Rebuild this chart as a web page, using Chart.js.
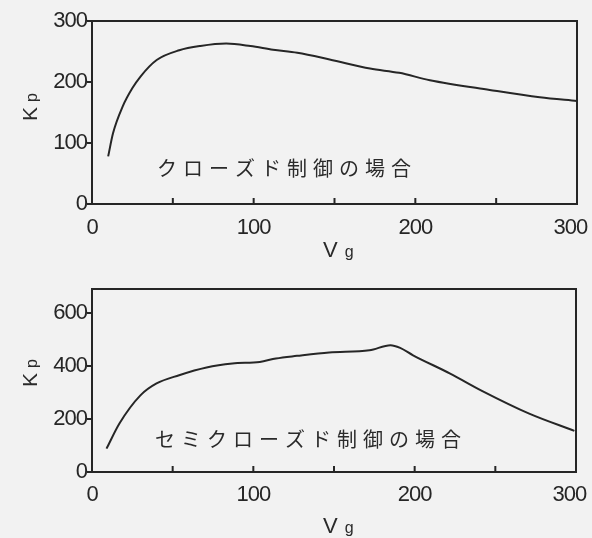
<!DOCTYPE html>
<html>
<head>
<meta charset="utf-8">
<script src="https://cdn.jsdelivr.net/npm/chart.js@4"></script>
<style>
  html, body { margin: 0; padding: 0; background: #f2f2f2; }
  #wrap { position: relative; width: 592px; height: 538px; background: #f2f2f2; }
  .pane { position: absolute; left: 0; width: 592px; height: 269px; }
  #top { top: 0; }
  #bottom { top: 269px; }
</style>
</head>
<body>
<div id="wrap">
  <div class="pane" id="top"><canvas id="c1" width="592" height="269"></canvas></div>
  <div class="pane" id="bottom"><canvas id="c2" width="592" height="269"></canvas></div>
</div>
<script>
// Gain Kp versus Vg, closed control
const closedVg = [10, 13, 19, 25, 30, 40, 54, 67, 83, 98, 112, 127, 147, 172, 190, 209, 246, 277, 300];
const closedKp = [78, 116, 160, 190, 209, 236, 252, 259, 263, 259, 253, 248, 237, 222, 215, 203, 187, 175, 169];

// Gain Kp versus Vg, semi-closed control
const semiVg = [9, 17, 30, 40, 54, 71, 87, 104, 114, 127, 147, 172, 185, 191, 199, 222, 242, 271, 299];
const semiKp = [88, 183, 289, 334, 365, 394, 409, 415, 428, 438, 451, 459, 478, 468, 440, 371, 305, 220, 155];

const xTicksMajor = [0, 100, 200, 300];
const xTicksMinor = [50, 100, 150, 200, 250];
const closedYTicks = [0, 100, 200, 300];
const semiYTicks = [0, 200, 400, 600];

const captions = ['クローズド制御の場合', 'セミクローズド制御の場合'];

const INK = '#262626';
const TICK_FONT = { family: '"Liberation Sans", Arial, sans-serif', size: 22 };

// the last x label sits a little inside the right edge of the page
const xLabel = v => (v === 300 ? '300\u2002\u2009' : String(v));

// tight tracking for the numerals
const tracking = {
  id: 'tracking',
  beforeDraw(chart) { chart.ctx.letterSpacing = '-1px'; }
};

// Frame, inward x ticks, caption and axis names
const decor = {
  id: 'decor',
  afterDatasetsDraw(chart, args, o) {
    const { ctx, chartArea: a, scales: { x } } = chart;
    ctx.save();
    ctx.letterSpacing = '0px';
    ctx.strokeStyle = INK;
    ctx.lineWidth = 2;
    ctx.strokeRect(a.left, a.top, a.right - a.left, a.bottom - a.top);
    ctx.beginPath();
    for (const v of xTicksMinor) {
      const px = x.getPixelForValue(v);
      ctx.moveTo(px, a.bottom);
      ctx.lineTo(px, a.bottom - 6);
    }
    ctx.stroke();

    ctx.fillStyle = '#2a2a2a';
    ctx.font = '20px "Noto Sans CJK JP", sans-serif';
    ctx.letterSpacing = '6px';
    ctx.textBaseline = 'middle';
    ctx.textAlign = 'left';
    ctx.fillText(o.caption, o.capX, o.capY);
    ctx.letterSpacing = '0px';

    // "V g"
    ctx.textBaseline = 'alphabetic';
    ctx.font = '22px "Liberation Sans", Arial, sans-serif';
    ctx.fillText('V', o.vgX, o.vgY);
    const vw = ctx.measureText('V').width;
    ctx.font = '16px "Liberation Sans", Arial, sans-serif';
    ctx.fillText('g', o.vgX + vw + 7, o.vgY);

    // "K p" (rotated)
    ctx.translate(o.kpX, o.kpY);
    ctx.rotate(-Math.PI / 2);
    ctx.font = '21px "Liberation Sans", Arial, sans-serif';
    ctx.fillText('K', 0, 0);
    const kw = ctx.measureText('K').width;
    ctx.font = '16px "Liberation Sans", Arial, sans-serif';
    ctx.fillText('p', kw + 5, 0);
    ctx.restore();
  }
};

function makeChart(id, vg, kp, yMax, yTicks, xPad, decorOpts) {
  const H = 269;
  return new Chart(document.getElementById(id), {
    type: 'line',
    data: {
      datasets: [{
        data: vg.map((v, i) => ({ x: v, y: kp[i] })),
        borderColor: INK,
        borderWidth: 2,
        pointRadius: 0,
        cubicInterpolationMode: 'monotone',
        fill: false
      }]
    },
    options: {
      responsive: false,
      animation: false,
      events: [],
      layout: { padding: { left: 0, right: 592 - decorOpts.right, top: decorOpts.top, bottom: 0 } },
      plugins: { legend: { display: false }, tooltip: { enabled: false }, decor: decorOpts },
      scales: {
        x: {
          type: 'linear',
          min: 0, max: 300,
          afterBuildTicks: s => { s.ticks = xTicksMajor.map(v => ({ value: v })); },
          afterFit: s => { s.height = H - decorOpts.bottom; s.paddingLeft = 0; s.paddingRight = 0; },
          grid: { display: false },
          border: { display: false },
          ticks: { color: INK, font: TICK_FONT, padding: xPad, maxRotation: 0, callback: xLabel }
        },
        y: {
          type: 'linear',
          min: 0, max: yMax,
          afterBuildTicks: s => { s.ticks = yTicks.map(v => ({ value: v })); },
          afterFit: s => { s.width = 92; s.paddingTop = 0; s.paddingBottom = 0; },
          grid: { drawOnChartArea: false, drawTicks: true, tickLength: 5, color: INK, lineWidth: 2 },
          border: { display: false },
          ticks: { color: INK, font: TICK_FONT, padding: 0 }
        }
      }
    },
    plugins: [tracking, decor]
  });
}

makeChart('c1', closedVg, closedKp, 300, closedYTicks, 3, {
  caption: captions[0], capX: 157, capY: 168,
  top: 21, bottom: 204, right: 577,
  vgX: 323, vgY: 257, kpX: 37, kpY: 121
});

makeChart('c2', semiVg, semiKp, 690, semiYTicks, 2, {
  caption: captions[1], capX: 155, capY: 170,
  top: 20, bottom: 203, right: 576,
  vgX: 323, vgY: 264, kpX: 37, kpY: 118
});
</script>
</body>
</html>
